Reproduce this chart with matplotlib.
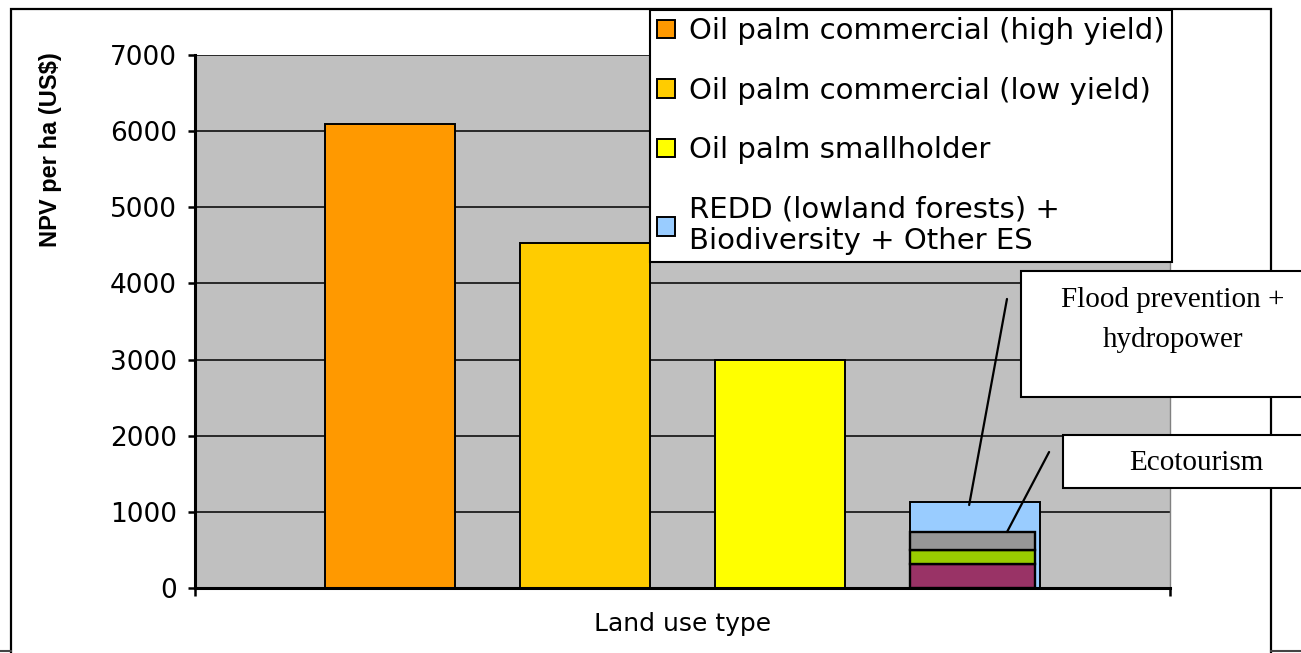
import matplotlib
matplotlib.use("Agg")
import matplotlib.pyplot as plt
from matplotlib import font_manager
from matplotlib.patches import Rectangle
from matplotlib.lines import Line2D

# ---------------- data ----------------
legend_labels = [
    "Oil palm commercial (high yield)",
    "Oil palm commercial (low yield)",
    "Oil palm smallholder",
    "REDD (lowland forests) +\nBiodiversity + Other ES",
]
bar_positions = [1, 2, 3, 4]
npv_values = [6100, 4530, 3000, 1130]
bar_colors = ["#FF9900", "#FFCC00", "#FFFF00", "#99CCFF"]

# components drawn over the REDD bar
stack_values = [310, 190, 235]
stack_colors = ["#993366", "#99CC00", "#969696"]

y_ticks = [0, 1000, 2000, 3000, 4000, 5000, 6000, 7000]
x_label = "Land use type"
y_label = "NPV per ha (US$)"
flood_text = "Flood prevention +\nhydropower"
eco_text = "Ecotourism"

# ---------------- layout helpers ----------------
W, H = 1301, 653
def fx(px):
    return px / W
def fy(py):
    return 1 - py / H

installed = {f.name for f in font_manager.fontManager.ttflist}
if "Liberation Sans Narrow" in installed:
    ylab_family, ylab_size = "Liberation Sans Narrow", 20
else:
    ylab_family, ylab_size = "Liberation Sans", 17

fig = plt.figure(figsize=(W / 100, H / 100), dpi=100)
fig.patch.set_facecolor("white")

ax = fig.add_axes([fx(195), fy(588), fx(1170) - fx(195), fy(55) - fy(588)])
ax.set_facecolor("#C0C0C0")
ax.set_xlim(0, 5)
ax.set_ylim(0, 7000)

# main bars
bars = []
for pos, val, col, lab in zip(bar_positions, npv_values, bar_colors, legend_labels):
    b = ax.bar(pos, val, width=0.667, color=col, edgecolor="black", linewidth=1.4,
               label=lab, zorder=2)
    bars.append(b)

# stacked components over the last bar
bottom = 0
for val, col in zip(stack_values, stack_colors):
    ax.bar(bar_positions[-1] - 0.3335, val, width=0.641, bottom=bottom, align="edge",
           color=col, edgecolor="black", linewidth=1.7, zorder=3)
    bottom += val

# grid & axes styling
ax.set_yticks(y_ticks)
ax.yaxis.grid(True, color="black", linewidth=1.1, zorder=1)
ax.set_axisbelow(True)
ax.set_xticks([0, 5])
ax.set_xticklabels([])
ax.tick_params(axis="x", direction="out", length=6, width=1.8, color="black")
ax.tick_params(axis="y", direction="out", length=5, width=1.8, color="black",
               labelsize=19, pad=8)
for t in ax.get_yticklabels():
    t.set_fontfamily("DejaVu Sans")
for side in ("left", "bottom"):
    ax.spines[side].set_linewidth(2.2)
    ax.spines[side].set_color("black")
ax.spines["top"].set_visible(False)
ax.spines["right"].set_color("#808080")
ax.spines["right"].set_linewidth(1.0)

ax.set_xlabel(x_label, fontsize=18, fontfamily="DejaVu Sans")
ax.xaxis.set_label_coords(0.5, -0.045)
ax.set_ylabel(y_label, fontsize=ylab_size, fontweight="bold",
              fontfamily=[ylab_family, "DejaVu Sans"])
ax.yaxis.set_label_coords((62 - 195) / 975, (588 - 150) / 533)
ax.yaxis.label.set_va("bottom")

# legend
leg = ax.legend(handles=[b for b in bars], labels=legend_labels,
                loc="upper left", bbox_to_anchor=(fx(650), fy(10)),
                bbox_transform=fig.transFigure, borderaxespad=0,
                prop={"family": "DejaVu Sans", "size": 21},
                frameon=True, fancybox=False, framealpha=1, edgecolor="black",
                borderpad=0.25, labelspacing=1.08, handlelength=0.62,
                handleheight=0.62, handletextpad=0.48)
leg.get_frame().set_linewidth(1.5)
for t in leg.get_texts():
    t.set_linespacing(1.15)

# callout lines (annotations pointing into the last bar)
ax.annotate("", xy=(3.97, 1090), xytext=(4.164, 3796),
            arrowprops=dict(arrowstyle="-", color="black", lw=1.6,
                            shrinkA=0, shrinkB=0), zorder=4)
ax.annotate("", xy=(4.164, 735), xytext=(4.38, 1786),
            arrowprops=dict(arrowstyle="-", color="black", lw=1.6,
                            shrinkA=0, shrinkB=0), zorder=4)

# callout boxes
def box(x0, y0, x1, y1):
    r = Rectangle((fx(x0), fy(y1)), fx(x1) - fx(x0), fy(y0) - fy(y1),
                  transform=fig.transFigure, facecolor="white",
                  edgecolor="black", linewidth=1.5, zorder=5)
    fig.add_artist(r)

box(1021, 271, 1320, 397)
box(1063, 435, 1320, 488)
fig.text(fx(1173), fy(320), flood_text, ha="center", va="center",
         multialignment="center", fontsize=21, fontfamily="Liberation Serif",
         linespacing=1.7, zorder=6)
fig.text(fx(1196), fy(463), eco_text, ha="center", va="center",
         fontsize=21, fontfamily="Liberation Serif", zorder=6)

# outer chart frame
frame = Rectangle((fx(11), fy(670)), fx(1271) - fx(11), fy(9) - fy(670),
                  transform=fig.transFigure, facecolor="none",
                  edgecolor="black", linewidth=1.6, zorder=1)
fig.add_artist(frame)
fig.add_artist(Line2D([fx(0), fx(11)], [fy(651), fy(651)], transform=fig.transFigure,
                      color="#444444", linewidth=1.5))
fig.add_artist(Line2D([fx(1271), fx(1301)], [fy(651), fy(651)], transform=fig.transFigure,
                      color="#444444", linewidth=1.5))

fig.savefig("out.png", dpi=100)
